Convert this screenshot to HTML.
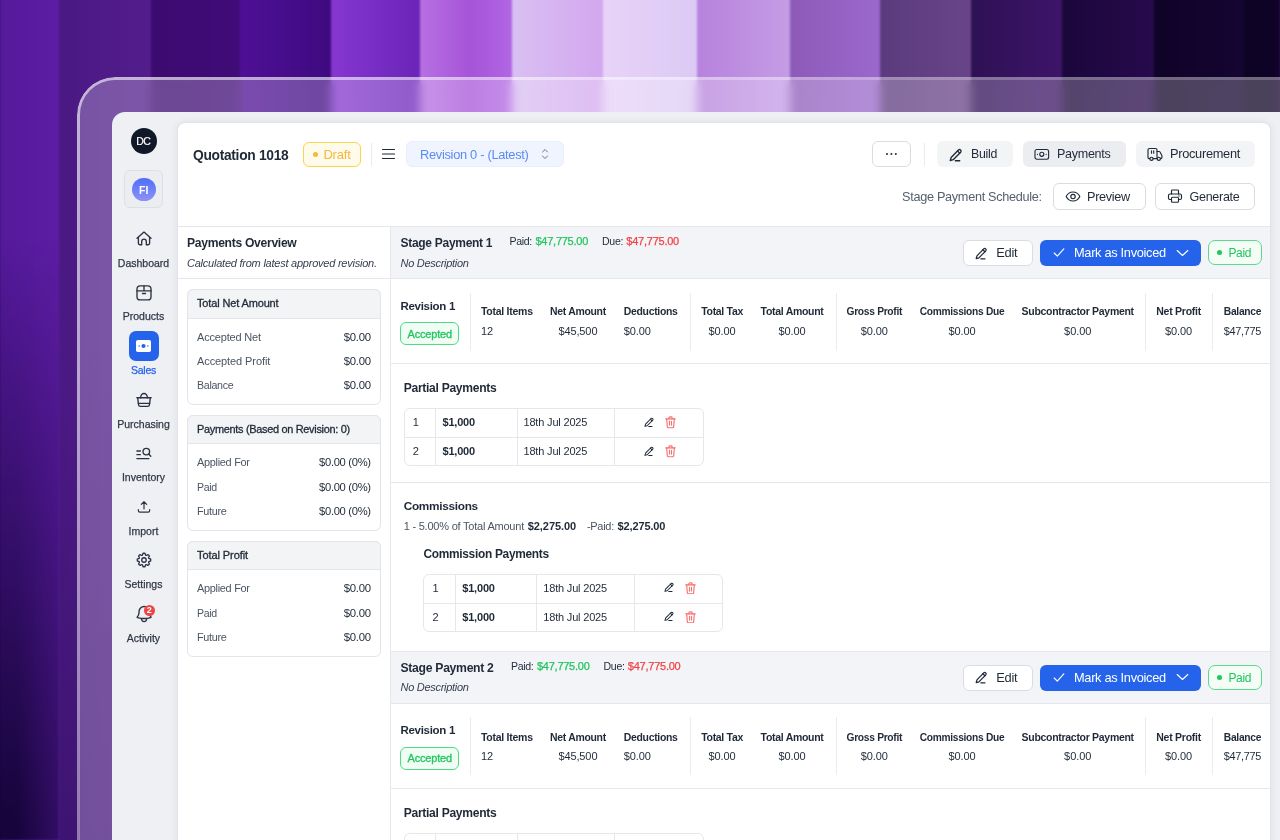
<!DOCTYPE html>
<html lang="en">
<head>
<meta charset="utf-8">
<title>Quotation 1018 - Payments</title>
<style>
*{box-sizing:border-box;margin:0;padding:0}
html,body{width:1280px;height:840px;overflow:hidden}
body{position:relative;font-family:"Liberation Sans",sans-serif;color:#1f2937;background:#3d0c72;-webkit-font-smoothing:antialiased}
.bg{position:absolute;left:0;top:-20px;width:1280px;height:880px;filter:blur(1.2px);
background:linear-gradient(90deg,
#551a9b 0px,#5d1da4 59px,
#4a1983 59px,#531d8d 151px,
#3c0b70 151px,#400c78 240px,
#4e1096 240px,#3e0a80 331px,
#8637d0 331px,#6a24b8 420px,
#b770e2 420px,#a654d8 470px,#b066e2 512px,
#d9c0f2 512px,#d3a7ef 603px,
#e8d3f8 603px,#dccaf5 697px,
#b782dc 697px,#c59ce6 790px,
#8d5ab8 790px,#9b69cd 880px,
#5b3b7d 880px,#694489 971px,
#2e1154 971px,#3e1469 1062px,
#1b073a 1062px,#270a4c 1154px,
#0f0327 1154px,#150532 1244px,
#0d0323 1244px,#0f0328 1280px);}
.bgv{position:absolute;left:-5px;top:0;width:64px;height:840px;filter:blur(1.2px);
background:linear-gradient(180deg,rgba(10,0,40,0) 0,rgba(10,0,40,0) 240px,rgba(10,0,40,.24) 400px,rgba(10,0,40,.8) 800px,rgba(10,0,40,.84) 840px);
-webkit-mask-image:linear-gradient(90deg,#000 0,#000 35%,rgba(0,0,0,.62) 100%);mask-image:linear-gradient(90deg,#000 0,#000 35%,rgba(0,0,0,.62) 100%)}
.bgv2{position:absolute;left:59px;top:0;width:20px;height:840px;
background:linear-gradient(180deg,rgba(10,0,40,0) 0,rgba(10,0,40,0) 400px,rgba(10,0,40,.2) 840px)}
.frame{position:absolute;left:80px;top:80px;width:1300px;height:900px;border-radius:35px;background:linear-gradient(180deg,rgba(255,255,255,.25) 0,rgba(255,255,255,.25) 250px,rgba(215,225,205,.27) 840px);-webkit-backdrop-filter:blur(5px);backdrop-filter:blur(5px)}
.frameb{position:absolute;left:77px;top:77px;width:1306px;height:906px;border-radius:38px;padding:3px;background:radial-gradient(circle at 0 0,rgba(255,255,255,.68) 0,rgba(255,255,255,.62) 300px,rgba(255,255,255,.42) 800px,rgba(255,255,255,.4) 1300px);-webkit-mask:linear-gradient(#000 0 0) content-box,linear-gradient(#000 0 0);-webkit-mask-composite:xor;mask-composite:exclude}
.win{position:absolute;left:112px;top:112px;width:1300px;height:900px;background:#eff0f4;border-radius:13px}
.panel{position:absolute;left:177px;top:122px;width:1094px;height:800px;background:#fff;border:1px solid #e1e3e8;border-radius:8px 8px 0 0;overflow:hidden;box-shadow:0 0 9px rgba(20,25,45,.07)}
.t{position:absolute;white-space:nowrap;line-height:16px;height:16px}
.c{transform:translate(-50%,-50%)}
.r{transform:translate(-100%,-50%)}
.b{font-weight:700}
.abs{position:absolute}

.sb{position:absolute;left:112px;top:112px;width:65px;height:728px}
.av{position:absolute;left:130.5px;top:128px;width:26px;height:26px;border-radius:50%;background:#111827;color:#fff;font-size:10.5px;font-weight:400;-webkit-text-stroke:.2px #fff;text-align:center;line-height:27px;letter-spacing:-.5px;text-indent:-.5px}
.fibox{position:absolute;left:124px;top:170px;width:39px;height:38px;border:1px solid #dcdfe5;border-radius:6px;background:#ebedf1}
.fi{position:absolute;left:132px;top:177.500px;width:23.500px;height:23.500px;border-radius:50%;background:linear-gradient(180deg,#4f6ef7,#8d92f9);color:#fff;font-size:10.500px;font-weight:700;text-align:center;line-height:24px}
.nl{position:absolute;left:143.5px;white-space:nowrap;line-height:1;transform:translate(-50%,-50%);font-size:10.5px;color:#2f3947;-webkit-text-stroke:.25px #2f3947}
.ni{position:absolute;left:134.5px;width:18px;height:18px;fill:none;stroke:#2b3340;stroke-width:1.35;stroke-linecap:round;stroke-linejoin:round}
.salesbox{position:absolute;left:129px;top:331px;width:29.5px;height:30px;border-radius:7px;background:#2563eb}

.hline{position:absolute;background:#e5e7eb}
.btn{position:absolute;height:26px;border-radius:6px;font-size:13px;color:#1f2937}
.btn.g{background:#f3f4f6}
.btn.w{background:#fff;border:1px solid #d4d7dd}
.ic{position:absolute;fill:none;stroke:#1f2937;stroke-width:1.15;stroke-linecap:round;stroke-linejoin:round}
</style>
</head>
<body>
<div class="bg"></div>
<div class="bgv"></div><div class="bgv2"></div>
<div class="frame"></div><div class="frameb"></div>
<div class="win"></div>
<div class="panel"></div>

<nav>
<div class="av">DC</div>
<div class="fibox"></div><div class="fi">FI</div>

<svg class="ni" style="left:135px;top:229px" viewBox="0 0 18 18"><path d="M2 9.300 9 3.100l7 6.200"/><path d="M3.400 8.300v6a1.400 1.400 0 0 0 1.400 1.400h1.900v-3.300a2.300 2.300 0 0 1 4.600 0v3.300h1.900a1.400 1.400 0 0 0 1.400-1.400v-6"/></svg>
<div class="nl" style="top:262.700px">Dashboard</div>

<svg class="ni" style="left:135px;top:283.500px" viewBox="0 0 18 18"><rect x="2" y="1.900" width="14" height="14" rx="3.200"/><path d="M2 6.900h14M9 1.900v5M7.500 9.500h3"/></svg>
<div class="nl" style="top:316.400px">Products</div>

<div class="salesbox"></div>
<svg class="abs" style="left:136.200px;top:340px" width="15" height="12" viewBox="0 0 15 12"><rect x="0" y="0" width="15" height="12" rx="1.800" fill="#fff"/><circle cx="7.500" cy="6" r="2.100" fill="#2563eb"/><circle cx="3.100" cy="6" r=".75" fill="#2563eb"/><circle cx="11.900" cy="6" r=".75" fill="#2563eb"/></svg>
<div class="nl" style="top:370px;color:#2563eb;-webkit-text-stroke-color:#2563eb;letter-spacing:-.25px">Sales</div>

<svg class="ni" style="left:135px;top:390.500px" viewBox="0 0 18 18"><path d="M1.900 6.700h14.200"/><path d="M5.600 6.700a3.400 4.200 0 0 1 6.800 0"/><path d="M2.700 6.700l.8 6.900a2 2 0 0 0 2 1.800h7a2 2 0 0 0 2-1.800l.8-6.900"/><path d="M3.400 12.400h11.200"/></svg>
<div class="nl" style="top:423.700px">Purchasing</div>

<svg class="ni" style="left:135px;top:443.700px" viewBox="0 0 18 18"><circle cx="11.300" cy="7.600" r="3.300"/><path d="m13.700 10 2.100 2.200"/><path d="M1.900 7h3.500M1.900 10.600h3.500M1.900 14.600h12"/></svg>
<div class="nl" style="top:477.300px">Inventory</div>

<svg class="ni" style="left:135.500px;top:498.500px;width:16px;height:16px" viewBox="0 0 18 18"><path d="M9 11V3.200M6 6 9 3l3 3"/><path d="M2.600 11.800v1.200a1.800 1.800 0 0 0 1.800 1.800h9.200a1.800 1.800 0 0 0 1.800-1.800v-1.200"/></svg>
<div class="nl" style="top:531px">Import</div>

<svg class="ni" style="top:551px;stroke-width:1.750" viewBox="0 0 24 24"><path d="M10.343 3.940c.09-.542.560-.940 1.110-.940h1.093c.55 0 1.020.398 1.110.940l.149.894c.07.424.384.764.780.930.398.164.855.142 1.205-.108l.737-.527a1.125 1.125 0 0 1 1.450.120l.773.774c.39.389.44 1.002.120 1.450l-.527.737c-.250.350-.272.806-.107 1.204.165.397.505.710.930.780l.893.150c.543.090.940.560.940 1.109v1.094c0 .550-.397 1.020-.940 1.110l-.893.149c-.425.070-.765.383-.930.780-.165.398-.143.854.107 1.204l.527.738c.320.447.269 1.060-.120 1.450l-.774.773a1.125 1.125 0 0 1-1.449.120l-.738-.527c-.350-.250-.806-.272-1.203-.107-.397.165-.710.505-.781.929l-.149.894c-.090.542-.560.940-1.110.940h-1.094c-.550 0-1.019-.398-1.110-.940l-.148-.894c-.071-.424-.384-.764-.781-.930-.398-.164-.854-.142-1.204.108l-.738.527c-.447.320-1.060.269-1.450-.120l-.773-.774a1.125 1.125 0 0 1-.120-1.450l.527-.737c.250-.350.273-.806.108-1.204-.165-.397-.505-.710-.930-.780l-.894-.150c-.542-.090-.940-.560-.940-1.109v-1.094c0-.550.398-1.020.940-1.110l.894-.149c.424-.070.765-.383.930-.780.165-.398.143-.854-.107-1.204l-.527-.738a1.125 1.125 0 0 1 .120-1.450l.773-.773a1.125 1.125 0 0 1 1.450-.120l.737.527c.350.250.807.272 1.204.107.397-.165.710-.505.780-.929z"/><circle cx="12" cy="12" r="3"/></svg>
<div class="nl" style="top:584.300px">Settings</div>

<svg class="ni" style="left:133.900px;top:604.300px;width:20.200px;height:20.200px;stroke-width:1.600" viewBox="0 0 24 24"><path d="M14.857 17.082a23.848 23.848 0 0 0 5.454-1.310A8.967 8.967 0 0 1 18 9.750V9A6 6 0 0 0 6 9v.750a8.967 8.967 0 0 1-2.312 6.022c1.733.640 3.560 1.085 5.455 1.310m5.714 0a24.255 24.255 0 0 1-5.714 0m5.714 0a3 3 0 1 1-5.714 0"/></svg>
<div class="abs" style="left:143.500px;top:604.500px;width:11.500px;height:11.500px;border-radius:50%;background:#ef4444;color:#fff;font-size:9px;font-weight:700;text-align:center;line-height:11.500px">2</div>
<div class="nl" style="top:638.300px">Activity</div>


</nav>
<header>
<div class="t" style="left:193px;top:148.00px;font-size:13.8px;color:#1f2937;letter-spacing:-0.306px;font-weight:700;">Quotation 1018</div>
<div class="abs" style="left:303px;top:142px;width:58px;height:24.5px;background:#fffbeb;border:1px solid #fcd34d;border-radius:6px;"></div>
<div class="abs" style="left:312.5px;top:151.7px;width:5px;height:5px;background:#f7b93c;border-radius:3px;"></div>
<div class="t" style="left:323.4px;top:147.00px;font-size:13.0px;color:#f5b73f;letter-spacing:-0.194px;">Draft</div>
<div class="abs" style="left:371px;top:143px;width:1px;height:23px;background:#e9ebee;"></div>
<svg class="ic" style="left:381px;top:147px" width="15" height="14" viewBox="0 0 15 14" stroke-width="1.100" stroke="#374151"><path d="M1.500 2.500h12M1.500 7h12M1.500 11.500h12"/></svg>
<div class="abs" style="left:406px;top:141px;width:158px;height:26px;background:#eff4ff;border:1px solid #e8eefc;border-radius:6px;"></div>
<div class="t" style="left:420px;top:147.00px;font-size:12.85px;color:#5b8bf0;letter-spacing:-0.304px;">Revision 0 - (Latest)</div>
<svg class="ic" style="left:539px;top:147px;stroke:#6b7280;stroke-width:1" width="12" height="14" viewBox="0 0 12 14"><path d="M3.500 5 6 2.500 8.500 5M3.500 9 6 11.500 8.500 9"/></svg>
<div class="abs" style="left:871.5px;top:141px;width:39px;height:26px;background:#fff;border:1px solid #d9dce2;border-radius:6px;"></div>
<div class="abs" style="left:885.8px;top:153.2px;width:2.3px;height:2.3px;background:#1f2937;border-radius:2px;box-shadow:4.400px 0 0 #1f2937,8.800px 0 0 #1f2937;"></div>
<div class="abs" style="left:924px;top:143px;width:1px;height:23px;background:#e9ebee;"></div>
<div class="abs" style="left:937px;top:141px;width:75.5px;height:26px;background:#f3f4f6;border-radius:6px;"></div>
<svg class="ic" style="left:949.0px;top:147.5px;stroke:#1f2937" width="14" height="14" viewBox="0 0 12 12" stroke-width="1.11"><path d="M8.100 1.700a1.350 1.350 0 0 1 1.900 1.900L3.600 10 1.100 10.700 1.800 8.200z"/><path d="M7.300 2.500l1.900 1.900"/><path d="M5.400 10.900h3.800"/></svg>
<div class="t" style="left:971px;top:146.00px;font-size:12.35px;color:#1f2937;letter-spacing:-0.292px;">Build</div>
<div class="abs" style="left:1023px;top:141px;width:102.5px;height:26px;background:#ebedf1;border-radius:6px;"></div>
<svg class="ic" style="left:1034px;top:147.500px" width="15.600" height="12.700" viewBox="0 0 16 13"><rect x="1" y="1.500" width="14" height="10" rx="2"/><circle cx="8" cy="6.500" r="2.100"/><path d="M3.500 6.500h.01M12.500 6.500h.01" stroke-width="1.300"/></svg>
<div class="t" style="left:1057px;top:146.00px;font-size:12.55px;color:#1f2937;letter-spacing:-0.288px;">Payments</div>
<div class="abs" style="left:1135.5px;top:141px;width:119px;height:26px;background:#f3f4f6;border-radius:6px;"></div>
<svg class="ic" style="left:1147px;top:146.500px" width="16" height="15" viewBox="0 0 16 15"><path d="M2.800 11.600H2a1 1 0 0 1-1-1V3a1.500 1.500 0 0 1 1.500-1.500h6A1.500 1.500 0 0 1 10 3v8.600H6.200"/><path d="M10 4.500h2.200a1 1 0 0 1 .8.500l1.800 3.200a1 1 0 0 1 .1.500v1.900a1 1 0 0 1-1 1h-.4"/><circle cx="4.500" cy="11.800" r="1.600"/><circle cx="11.800" cy="11.800" r="1.600"/><path d="M4.500 3.800v2.400M6.700 3.800v2.400"/></svg>
<div class="t" style="left:1170px;top:146.00px;font-size:12.8px;color:#1f2937;letter-spacing:-0.298px;">Procurement</div>
<div class="t" style="left:902px;top:189.00px;font-size:12.7px;color:#566070;letter-spacing:-0.298px;">Stage Payment Schedule:</div>
<div class="abs" style="left:1053px;top:183px;width:92.5px;height:26.6px;background:#fff;border:1px solid #d9dce2;border-radius:6px;"></div>
<svg class="ic" style="left:1064.500px;top:189.500px" width="16" height="13" viewBox="0 0 16 13"><path d="M1.200 6.500C2.600 3.600 5.100 2 8 2s5.400 1.600 6.800 4.500C13.400 9.400 10.900 11 8 11S2.600 9.400 1.200 6.500z"/><circle cx="8" cy="6.500" r="2.200"/></svg>
<div class="t" style="left:1087px;top:189.00px;font-size:12.7px;color:#1f2937;letter-spacing:-0.31px;">Preview</div>
<div class="abs" style="left:1155px;top:183px;width:99.5px;height:26.6px;background:#fff;border:1px solid #d9dce2;border-radius:6px;"></div>
<svg class="ic" style="left:1166.500px;top:188px" width="16" height="16" viewBox="0 0 16 16"><path d="M4.500 6V2.800a.8.800 0 0 1 .8-.8h5.400a.8.800 0 0 1 .8.800V6"/><path d="M4.500 11.500H3a1.500 1.500 0 0 1-1.500-1.500V7.500A1.500 1.500 0 0 1 3 6h10a1.500 1.500 0 0 1 1.500 1.500V10a1.500 1.500 0 0 1-1.500 1.500h-1.500"/><rect x="4.500" y="9.200" width="7" height="5" rx="1"/><path d="M12 8h.01" stroke-width="1.300"/></svg>
<div class="t" style="left:1189.5px;top:189.00px;font-size:12.55px;color:#1f2937;letter-spacing:-0.291px;">Generate</div>
<div class="abs" style="left:178px;top:226px;width:1092px;height:1px;background:#e5e7eb;"></div>
</header>
<aside>
<div class="abs" style="left:390px;top:227px;width:1px;height:620px;background:#e5e7eb;"></div>
<div class="t" style="left:187px;top:235.00px;font-size:12.15px;color:#1f2937;letter-spacing:-0.307px;font-weight:700;">Payments Overview</div>
<div class="t" style="left:187px;top:255.00px;font-size:11.0px;color:#374151;letter-spacing:-0.232px;font-style:italic;">Calculated from latest approved revision.</div>
<div class="abs" style="left:178px;top:278px;width:212px;height:1px;background:#e5e7eb;"></div>
<div class="abs" style="left:187px;top:289px;width:194px;height:116px;background:#fff;border:1px solid #e3e5ea;border-radius:6px;"></div>
<div class="abs" style="left:187px;top:289px;width:194px;height:29.5px;background:#f3f4f6;border:1px solid #e3e5ea;border-radius:6px 6px 0 0;"></div>
<div class="t" style="left:197px;top:295.00px;font-size:11.0px;color:#1f2937;letter-spacing:-0.142px;-webkit-text-stroke:0.3px #1f2937;">Total Net Amount</div>
<div class="t" style="left:197px;top:329.00px;font-size:11.0px;color:#4b5563;letter-spacing:-0.178px;">Accepted Net</div>
<div class="t" style="left:371px;top:329.00px;font-size:11.35px;color:#1f2937;transform:translateX(-100%);letter-spacing:-0.301px;margin-left:-0.301px;">$0.00</div>
<div class="t" style="left:197px;top:353.00px;font-size:11.0px;color:#4b5563;letter-spacing:-0.093px;">Accepted Profit</div>
<div class="t" style="left:371px;top:353.00px;font-size:11.35px;color:#1f2937;transform:translateX(-100%);letter-spacing:-0.301px;margin-left:-0.301px;">$0.00</div>
<div class="t" style="left:197px;top:377.00px;font-size:10.65px;color:#4b5563;letter-spacing:-0.298px;">Balance</div>
<div class="t" style="left:371px;top:377.00px;font-size:11.35px;color:#1f2937;transform:translateX(-100%);letter-spacing:-0.301px;margin-left:-0.301px;">$0.00</div>
<div class="abs" style="left:187px;top:415px;width:194px;height:116px;background:#fff;border:1px solid #e3e5ea;border-radius:6px;"></div>
<div class="abs" style="left:187px;top:415px;width:194px;height:29px;background:#f3f4f6;border:1px solid #e3e5ea;border-radius:6px 6px 0 0;"></div>
<div class="t" style="left:197px;top:421.00px;font-size:10.95px;color:#1f2937;letter-spacing:-0.307px;-webkit-text-stroke:0.3px #1f2937;">Payments (Based on Revision: 0)</div>
<div class="t" style="left:197px;top:454.00px;font-size:10.95px;color:#4b5563;letter-spacing:-0.3px;">Applied For</div>
<div class="t" style="left:371px;top:454.00px;font-size:11.2px;color:#1f2937;transform:translateX(-100%);letter-spacing:-0.309px;margin-left:-0.309px;">$0.00 (0%)</div>
<div class="t" style="left:197px;top:479.00px;font-size:10.55px;color:#4b5563;letter-spacing:-0.304px;">Paid</div>
<div class="t" style="left:371px;top:479.00px;font-size:11.2px;color:#1f2937;transform:translateX(-100%);letter-spacing:-0.309px;margin-left:-0.309px;">$0.00 (0%)</div>
<div class="t" style="left:197px;top:503.00px;font-size:10.85px;color:#4b5563;letter-spacing:-0.31px;">Future</div>
<div class="t" style="left:371px;top:503.00px;font-size:11.2px;color:#1f2937;transform:translateX(-100%);letter-spacing:-0.309px;margin-left:-0.309px;">$0.00 (0%)</div>
<div class="abs" style="left:187px;top:541px;width:194px;height:115.5px;background:#fff;border:1px solid #e3e5ea;border-radius:6px;"></div>
<div class="abs" style="left:187px;top:541px;width:194px;height:29px;background:#f3f4f6;border:1px solid #e3e5ea;border-radius:6px 6px 0 0;"></div>
<div class="t" style="left:197px;top:547.00px;font-size:11.0px;color:#1f2937;letter-spacing:-0.08px;-webkit-text-stroke:0.3px #1f2937;">Total Profit</div>
<div class="t" style="left:197px;top:580.00px;font-size:10.95px;color:#4b5563;letter-spacing:-0.3px;">Applied For</div>
<div class="t" style="left:371px;top:580.00px;font-size:11.35px;color:#1f2937;transform:translateX(-100%);letter-spacing:-0.301px;margin-left:-0.301px;">$0.00</div>
<div class="t" style="left:197px;top:605.00px;font-size:10.55px;color:#4b5563;letter-spacing:-0.304px;">Paid</div>
<div class="t" style="left:371px;top:605.00px;font-size:11.35px;color:#1f2937;transform:translateX(-100%);letter-spacing:-0.301px;margin-left:-0.301px;">$0.00</div>
<div class="t" style="left:197px;top:629.00px;font-size:10.85px;color:#4b5563;letter-spacing:-0.31px;">Future</div>
<div class="t" style="left:371px;top:629.00px;font-size:11.35px;color:#1f2937;transform:translateX(-100%);letter-spacing:-0.301px;margin-left:-0.301px;">$0.00</div>
</aside>
<main>
<section>
<div class="abs" style="left:391px;top:226px;width:879px;height:53px;background:#f3f4f8;border-top:1px solid #e5e7eb;border-bottom:1px solid #e5e7eb;"></div>
<div class="t" style="left:400.5px;top:235.00px;font-size:12.0px;color:#1f2937;letter-spacing:-0.289px;font-weight:700;">Stage Payment 1</div>
<div class="t" style="left:509.5px;top:233.00px;font-size:10.55px;color:#1f2937;letter-spacing:-0.309px;">Paid:</div>
<div class="t" style="left:535.5px;top:233.00px;font-size:11.0px;color:#22c55e;letter-spacing:-0.255px;-webkit-text-stroke:0.25px #22c55e;">$47,775.00</div>
<div class="t" style="left:602px;top:233.00px;font-size:10.55px;color:#1f2937;letter-spacing:-0.296px;">Due:</div>
<div class="t" style="left:626.3px;top:233.00px;font-size:11.0px;color:#ef4444;letter-spacing:-0.235px;-webkit-text-stroke:0.25px #ef4444;">$47,775.00</div>
<div class="t" style="left:400.5px;top:255.00px;font-size:11.0px;color:#374151;letter-spacing:-0.281px;font-style:italic;">No Description</div>
<div class="abs" style="left:962.5px;top:239.7px;width:70.5px;height:26px;background:#fff;border:1px solid #d9dce2;border-radius:6px;"></div>
<svg class="ic" style="left:975.0px;top:246.5px;stroke:#1f2937" width="13" height="13" viewBox="0 0 12 12" stroke-width="1.15"><path d="M8.100 1.700a1.350 1.350 0 0 1 1.900 1.900L3.600 10 1.100 10.700 1.800 8.200z"/><path d="M7.300 2.500l1.900 1.900"/><path d="M5.400 10.900h3.800"/></svg>
<div class="t" style="left:996.3px;top:245.00px;font-size:12.9px;color:#1f2937;letter-spacing:-0.307px;">Edit</div>
<div class="abs" style="left:1039.5px;top:239.7px;width:161.5px;height:26px;background:#2563eb;border-radius:6px;"></div>
<svg class="ic" style="left:1052.500px;top:247px;stroke:#fff" width="12" height="11" viewBox="0 0 12 11" stroke-width="1.300"><path d="M1.200 6 4.300 9.200 10.800 1.800"/></svg>
<div class="t" style="left:1074px;top:245.00px;font-size:12.8px;color:#fff;letter-spacing:-0.309px;">Mark as Invoiced</div>
<svg class="ic" style="left:1175.500px;top:248.5px;stroke:#fff" width="13" height="8" viewBox="0 0 13 8" stroke-width="1.300"><path d="M1.200 1.500 6.500 6.500 11.800 1.500"/></svg>
<div class="abs" style="left:1207.5px;top:240px;width:54px;height:25px;background:#f3fdf6;border:1px solid #5bd98e;border-radius:7px;"></div>
<div class="abs" style="left:1217px;top:250px;width:5.4px;height:5.4px;background:#22c55e;border-radius:3px;"></div>
<div class="t" style="left:1228.4px;top:245.00px;font-size:12.0px;color:#22c55e;letter-spacing:-0.304px;">Paid</div>
<div class="t" style="left:400.5px;top:298.00px;font-size:11.5px;color:#1f2937;letter-spacing:-0.302px;font-weight:700;">Revision 1</div>
<div class="abs" style="left:400px;top:322.4px;width:59px;height:22.6px;background:#f0fdf4;border:1px solid #4ade80;border-radius:6px;"></div>
<div class="t" style="left:407.6px;top:326.00px;font-size:11.0px;color:#22c55e;letter-spacing:-0.195px;-webkit-text-stroke:0.3px #22c55e;">Accepted</div>
<div class="abs" style="left:470px;top:292.5px;width:1px;height:58px;background:#eaecef;"></div>
<div class="abs" style="left:690px;top:292.5px;width:1px;height:58px;background:#eaecef;"></div>
<div class="abs" style="left:835.5px;top:292.5px;width:1px;height:58px;background:#eaecef;"></div>
<div class="abs" style="left:1145.3px;top:292.5px;width:1px;height:58px;background:#eaecef;"></div>
<div class="abs" style="left:1212.2px;top:292.5px;width:1px;height:58px;background:#eaecef;"></div>
<div class="t" style="left:481px;top:303.00px;font-size:10.5px;color:#1f2937;letter-spacing:-0.268px;font-weight:700;">Total Items</div>
<div class="t" style="left:481px;top:323.00px;font-size:11px;color:#1f2937;">12</div>
<div class="t" style="left:550px;top:304.00px;font-size:10.45px;color:#1f2937;letter-spacing:-0.292px;font-weight:700;">Net Amount</div>
<div class="t" style="left:577.95px;top:323.00px;font-size:11.0px;color:#1f2937;transform:translateX(-50%);letter-spacing:-0.109px;margin-left:-0.0545px;">$45,500</div>
<div class="t" style="left:623.8px;top:304.00px;font-size:10.45px;color:#1f2937;letter-spacing:-0.31px;font-weight:700;">Deductions</div>
<div class="t" style="left:623.8px;top:323.00px;font-size:11.0px;color:#1f2937;letter-spacing:-0.085px;">$0.00</div>
<div class="t" style="left:701.2px;top:303.00px;font-size:10.5px;color:#1f2937;letter-spacing:-0.304px;font-weight:700;">Total Tax</div>
<div class="t" style="left:722.1px;top:323.00px;font-size:11.0px;color:#1f2937;transform:translateX(-50%);letter-spacing:-0.085px;margin-left:-0.0425px;">$0.00</div>
<div class="t" style="left:760.6px;top:303.00px;font-size:10.5px;color:#1f2937;letter-spacing:-0.299px;font-weight:700;">Total Amount</div>
<div class="t" style="left:792.0500000000001px;top:323.00px;font-size:11.0px;color:#1f2937;transform:translateX(-50%);letter-spacing:-0.085px;margin-left:-0.0425px;">$0.00</div>
<div class="t" style="left:846.5px;top:304.00px;font-size:10.25px;color:#1f2937;letter-spacing:-0.303px;font-weight:700;">Gross Profit</div>
<div class="t" style="left:874.3px;top:323.00px;font-size:11.0px;color:#1f2937;transform:translateX(-50%);letter-spacing:-0.085px;margin-left:-0.0425px;">$0.00</div>
<div class="t" style="left:919.7px;top:304.00px;font-size:10.2px;color:#1f2937;letter-spacing:-0.286px;font-weight:700;">Commissions Due</div>
<div class="t" style="left:962.0500000000001px;top:323.00px;font-size:11.0px;color:#1f2937;transform:translateX(-50%);letter-spacing:-0.085px;margin-left:-0.0425px;">$0.00</div>
<div class="t" style="left:1021.6px;top:303.00px;font-size:10.5px;color:#1f2937;letter-spacing:-0.297px;font-weight:700;">Subcontractor Payment</div>
<div class="t" style="left:1077.7px;top:323.00px;font-size:11.0px;color:#1f2937;transform:translateX(-50%);letter-spacing:-0.085px;margin-left:-0.0425px;">$0.00</div>
<div class="t" style="left:1156.3px;top:303.00px;font-size:10.5px;color:#1f2937;letter-spacing:-0.255px;font-weight:700;">Net Profit</div>
<div class="t" style="left:1178.6499999999999px;top:323.00px;font-size:11.0px;color:#1f2937;transform:translateX(-50%);letter-spacing:-0.085px;margin-left:-0.0425px;">$0.00</div>
<div class="t" style="left:1223.8px;top:304.00px;font-size:10.25px;color:#1f2937;letter-spacing:-0.288px;font-weight:700;">Balance</div>
<div class="t" style="left:1223.8px;top:323.00px;font-size:10.9px;color:#1f2937;letter-spacing:-0.3px;">$47,775</div>
<div class="abs" style="left:391px;top:363px;width:879px;height:1px;background:#e5e7eb;"></div>
<div class="t" style="left:403.7px;top:380.00px;font-size:12.1px;color:#1f2937;letter-spacing:-0.295px;font-weight:700;">Partial Payments</div>
<div class="abs" style="left:403.5px;top:408px;width:300px;height:58px;background:#fff;border:1px solid #e5e7eb;border-radius:6px;"></div>
<div class="abs" style="left:403.5px;top:437px;width:300px;height:1px;background:#e5e7eb;"></div>
<div class="abs" style="left:435.2px;top:408px;width:1px;height:58px;background:#e5e7eb;"></div>
<div class="abs" style="left:516.5px;top:408px;width:1px;height:58px;background:#e5e7eb;"></div>
<div class="abs" style="left:614.0px;top:408px;width:1px;height:58px;background:#e5e7eb;"></div>
<div class="t" style="left:415.7px;top:414.00px;font-size:11px;color:#1f2937;transform:translateX(-50%);">1</div>
<div class="t" style="left:442.5px;top:414.00px;font-size:11.0px;color:#1f2937;letter-spacing:-0.207px;font-weight:700;">$1,000</div>
<div class="t" style="left:523.5px;top:414.00px;font-size:11.0px;color:#1f2937;letter-spacing:-0.181px;">18th Jul 2025</div>
<svg class="ic" style="left:644.25px;top:416.85px;stroke:#1f2937" width="10.5" height="10.5" viewBox="0 0 12 12" stroke-width="1.26"><path d="M8.100 1.700a1.350 1.350 0 0 1 1.900 1.900L3.600 10 1.100 10.700 1.800 8.200z"/><path d="M7.300 2.500l1.900 1.900"/><path d="M5.400 10.900h3.800"/></svg>
<svg class="ic" style="left:665.1px;top:416.35px;stroke:#f87171" width="11" height="12.5" viewBox="0 0 11 12.500" stroke-width="1.15"><path d="M.8 2.900h9.400"/><path d="M3.900 2.900V1.700a.9.900 0 0 1 .9-.9h1.400a.9.900 0 0 1 .9.900v1.200"/><path d="M1.700 2.900l.6 7.700a1.200 1.200 0 0 0 1.200 1.100h4a1.200 1.200 0 0 0 1.200-1.100l.6-7.700"/><path d="M4.500 5.200v3.900M6.500 5.200v3.900"/></svg>
<div class="t" style="left:415.7px;top:443.00px;font-size:11px;color:#1f2937;transform:translateX(-50%);">2</div>
<div class="t" style="left:442.5px;top:443.00px;font-size:11.0px;color:#1f2937;letter-spacing:-0.207px;font-weight:700;">$1,000</div>
<div class="t" style="left:523.5px;top:443.00px;font-size:11.0px;color:#1f2937;letter-spacing:-0.181px;">18th Jul 2025</div>
<svg class="ic" style="left:644.25px;top:445.95px;stroke:#1f2937" width="10.5" height="10.5" viewBox="0 0 12 12" stroke-width="1.26"><path d="M8.100 1.700a1.350 1.350 0 0 1 1.900 1.900L3.600 10 1.100 10.700 1.800 8.200z"/><path d="M7.300 2.500l1.900 1.900"/><path d="M5.400 10.900h3.800"/></svg>
<svg class="ic" style="left:665.1px;top:445.45px;stroke:#f87171" width="11" height="12.5" viewBox="0 0 11 12.500" stroke-width="1.15"><path d="M.8 2.900h9.400"/><path d="M3.900 2.900V1.700a.9.900 0 0 1 .9-.9h1.400a.9.900 0 0 1 .9.900v1.200"/><path d="M1.700 2.900l.6 7.700a1.200 1.200 0 0 0 1.200 1.100h4a1.200 1.200 0 0 0 1.200-1.100l.6-7.700"/><path d="M4.500 5.200v3.900M6.500 5.200v3.900"/></svg>
<div class="abs" style="left:391px;top:482px;width:879px;height:1px;background:#e5e7eb;"></div>
<div class="t" style="left:403.7px;top:498.00px;font-size:11.8px;color:#1f2937;letter-spacing:-0.289px;font-weight:700;">Commissions</div>
<div class="t" style="left:403.7px;top:518.00px;font-size:11.0px;color:#4b5563;letter-spacing:-0.219px;">1 - 5.00% of Total Amount</div>
<div class="t" style="left:527.8px;top:518.00px;font-size:11.0px;color:#1f2937;letter-spacing:-0.082px;font-weight:700;">$2,275.00</div>
<div class="t" style="left:586.9px;top:518.00px;font-size:11.0px;color:#4b5563;letter-spacing:-0.273px;">-Paid:</div>
<div class="t" style="left:617.5px;top:518.00px;font-size:11.0px;color:#1f2937;letter-spacing:-0.126px;font-weight:700;">$2,275.00</div>
<div class="t" style="left:423.4px;top:546.00px;font-size:11.9px;color:#1f2937;letter-spacing:-0.286px;font-weight:700;">Commission Payments</div>
<div class="abs" style="left:423.3px;top:573.5px;width:300px;height:58px;background:#fff;border:1px solid #e5e7eb;border-radius:6px;"></div>
<div class="abs" style="left:423.3px;top:602.5px;width:300px;height:1px;background:#e5e7eb;"></div>
<div class="abs" style="left:455.0px;top:573.5px;width:1px;height:58px;background:#e5e7eb;"></div>
<div class="abs" style="left:536.3px;top:573.5px;width:1px;height:58px;background:#e5e7eb;"></div>
<div class="abs" style="left:633.8px;top:573.5px;width:1px;height:58px;background:#e5e7eb;"></div>
<div class="t" style="left:435.5px;top:580.00px;font-size:11px;color:#1f2937;transform:translateX(-50%);">1</div>
<div class="t" style="left:462.3px;top:580.00px;font-size:11.0px;color:#1f2937;letter-spacing:-0.207px;font-weight:700;">$1,000</div>
<div class="t" style="left:543.3px;top:580.00px;font-size:11.0px;color:#1f2937;letter-spacing:-0.181px;">18th Jul 2025</div>
<svg class="ic" style="left:664.05px;top:582.3499999999999px;stroke:#1f2937" width="10.5" height="10.5" viewBox="0 0 12 12" stroke-width="1.26"><path d="M8.100 1.700a1.350 1.350 0 0 1 1.900 1.900L3.600 10 1.100 10.700 1.800 8.200z"/><path d="M7.300 2.500l1.900 1.900"/><path d="M5.400 10.900h3.800"/></svg>
<svg class="ic" style="left:684.9000000000001px;top:581.8499999999999px;stroke:#f87171" width="11" height="12.5" viewBox="0 0 11 12.500" stroke-width="1.15"><path d="M.8 2.900h9.400"/><path d="M3.900 2.900V1.700a.9.900 0 0 1 .9-.9h1.400a.9.900 0 0 1 .9.900v1.200"/><path d="M1.700 2.900l.6 7.700a1.200 1.200 0 0 0 1.200 1.100h4a1.200 1.200 0 0 0 1.200-1.100l.6-7.700"/><path d="M4.500 5.200v3.900M6.500 5.200v3.900"/></svg>
<div class="t" style="left:435.5px;top:609.00px;font-size:11px;color:#1f2937;transform:translateX(-50%);">2</div>
<div class="t" style="left:462.3px;top:609.00px;font-size:11.0px;color:#1f2937;letter-spacing:-0.207px;font-weight:700;">$1,000</div>
<div class="t" style="left:543.3px;top:609.00px;font-size:11.0px;color:#1f2937;letter-spacing:-0.181px;">18th Jul 2025</div>
<svg class="ic" style="left:664.05px;top:611.4499999999999px;stroke:#1f2937" width="10.5" height="10.5" viewBox="0 0 12 12" stroke-width="1.26"><path d="M8.100 1.700a1.350 1.350 0 0 1 1.900 1.900L3.600 10 1.100 10.700 1.800 8.200z"/><path d="M7.300 2.500l1.900 1.900"/><path d="M5.400 10.900h3.800"/></svg>
<svg class="ic" style="left:684.9000000000001px;top:610.9499999999999px;stroke:#f87171" width="11" height="12.5" viewBox="0 0 11 12.500" stroke-width="1.15"><path d="M.8 2.900h9.400"/><path d="M3.900 2.900V1.700a.9.900 0 0 1 .9-.9h1.400a.9.900 0 0 1 .9.900v1.200"/><path d="M1.700 2.900l.6 7.700a1.200 1.200 0 0 0 1.200 1.100h4a1.200 1.200 0 0 0 1.200-1.100l.6-7.700"/><path d="M4.500 5.200v3.900M6.500 5.200v3.900"/></svg>
</section>
<section>
<div class="abs" style="left:391px;top:651px;width:879px;height:53px;background:#f3f4f8;border-top:1px solid #e5e7eb;border-bottom:1px solid #e5e7eb;"></div>
<div class="t" style="left:400.5px;top:660.00px;font-size:12.2px;color:#1f2937;letter-spacing:-0.296px;font-weight:700;">Stage Payment 2</div>
<div class="t" style="left:511.0px;top:658.00px;font-size:10.55px;color:#1f2937;letter-spacing:-0.309px;">Paid:</div>
<div class="t" style="left:537.0px;top:658.00px;font-size:11.0px;color:#22c55e;letter-spacing:-0.255px;-webkit-text-stroke:0.25px #22c55e;">$47,775.00</div>
<div class="t" style="left:603.5px;top:658.00px;font-size:10.55px;color:#1f2937;letter-spacing:-0.296px;">Due:</div>
<div class="t" style="left:627.8px;top:658.00px;font-size:11.0px;color:#ef4444;letter-spacing:-0.235px;-webkit-text-stroke:0.25px #ef4444;">$47,775.00</div>
<div class="t" style="left:400.5px;top:679.00px;font-size:11.0px;color:#374151;letter-spacing:-0.281px;font-style:italic;">No Description</div>
<div class="abs" style="left:962.5px;top:664.5px;width:70.5px;height:26px;background:#fff;border:1px solid #d9dce2;border-radius:6px;"></div>
<svg class="ic" style="left:975.0px;top:671.3px;stroke:#1f2937" width="13" height="13" viewBox="0 0 12 12" stroke-width="1.15"><path d="M8.100 1.700a1.350 1.350 0 0 1 1.900 1.900L3.600 10 1.100 10.700 1.800 8.200z"/><path d="M7.300 2.500l1.900 1.900"/><path d="M5.400 10.900h3.800"/></svg>
<div class="t" style="left:996.3px;top:670.00px;font-size:12.9px;color:#1f2937;letter-spacing:-0.307px;">Edit</div>
<div class="abs" style="left:1039.5px;top:664.5px;width:161.5px;height:26px;background:#2563eb;border-radius:6px;"></div>
<svg class="ic" style="left:1052.500px;top:671.8px;stroke:#fff" width="12" height="11" viewBox="0 0 12 11" stroke-width="1.300"><path d="M1.200 6 4.300 9.200 10.800 1.800"/></svg>
<div class="t" style="left:1074px;top:670.00px;font-size:12.8px;color:#fff;letter-spacing:-0.309px;">Mark as Invoiced</div>
<svg class="ic" style="left:1175.500px;top:673.3px;stroke:#fff" width="13" height="8" viewBox="0 0 13 8" stroke-width="1.300"><path d="M1.200 1.500 6.500 6.500 11.800 1.500"/></svg>
<div class="abs" style="left:1207.5px;top:664.8px;width:54px;height:25px;background:#f3fdf6;border:1px solid #5bd98e;border-radius:7px;"></div>
<div class="abs" style="left:1217px;top:674.8px;width:5.4px;height:5.4px;background:#22c55e;border-radius:3px;"></div>
<div class="t" style="left:1228.4px;top:670.00px;font-size:12.0px;color:#22c55e;letter-spacing:-0.304px;">Paid</div>
<div class="t" style="left:400.5px;top:722.00px;font-size:11.5px;color:#1f2937;letter-spacing:-0.302px;font-weight:700;">Revision 1</div>
<div class="abs" style="left:400px;top:747.2px;width:59px;height:22.6px;background:#f0fdf4;border:1px solid #4ade80;border-radius:6px;"></div>
<div class="t" style="left:407.6px;top:750.00px;font-size:11.0px;color:#22c55e;letter-spacing:-0.195px;-webkit-text-stroke:0.3px #22c55e;">Accepted</div>
<div class="abs" style="left:470px;top:717.3px;width:1px;height:58px;background:#eaecef;"></div>
<div class="abs" style="left:690px;top:717.3px;width:1px;height:58px;background:#eaecef;"></div>
<div class="abs" style="left:835.5px;top:717.3px;width:1px;height:58px;background:#eaecef;"></div>
<div class="abs" style="left:1145.3px;top:717.3px;width:1px;height:58px;background:#eaecef;"></div>
<div class="abs" style="left:1212.2px;top:717.3px;width:1px;height:58px;background:#eaecef;"></div>
<div class="t" style="left:481px;top:729.00px;font-size:10.5px;color:#1f2937;letter-spacing:-0.268px;font-weight:700;">Total Items</div>
<div class="t" style="left:481px;top:748.00px;font-size:11px;color:#1f2937;">12</div>
<div class="t" style="left:550px;top:730.00px;font-size:10.45px;color:#1f2937;letter-spacing:-0.292px;font-weight:700;">Net Amount</div>
<div class="t" style="left:577.95px;top:748.00px;font-size:11.0px;color:#1f2937;transform:translateX(-50%);letter-spacing:-0.109px;margin-left:-0.0545px;">$45,500</div>
<div class="t" style="left:623.8px;top:730.00px;font-size:10.45px;color:#1f2937;letter-spacing:-0.31px;font-weight:700;">Deductions</div>
<div class="t" style="left:623.8px;top:748.00px;font-size:11.0px;color:#1f2937;letter-spacing:-0.085px;">$0.00</div>
<div class="t" style="left:701.2px;top:729.00px;font-size:10.5px;color:#1f2937;letter-spacing:-0.304px;font-weight:700;">Total Tax</div>
<div class="t" style="left:722.1px;top:748.00px;font-size:11.0px;color:#1f2937;transform:translateX(-50%);letter-spacing:-0.085px;margin-left:-0.0425px;">$0.00</div>
<div class="t" style="left:760.6px;top:729.00px;font-size:10.5px;color:#1f2937;letter-spacing:-0.299px;font-weight:700;">Total Amount</div>
<div class="t" style="left:792.0500000000001px;top:748.00px;font-size:11.0px;color:#1f2937;transform:translateX(-50%);letter-spacing:-0.085px;margin-left:-0.0425px;">$0.00</div>
<div class="t" style="left:846.5px;top:730.00px;font-size:10.25px;color:#1f2937;letter-spacing:-0.303px;font-weight:700;">Gross Profit</div>
<div class="t" style="left:874.3px;top:748.00px;font-size:11.0px;color:#1f2937;transform:translateX(-50%);letter-spacing:-0.085px;margin-left:-0.0425px;">$0.00</div>
<div class="t" style="left:919.7px;top:730.00px;font-size:10.2px;color:#1f2937;letter-spacing:-0.286px;font-weight:700;">Commissions Due</div>
<div class="t" style="left:962.0500000000001px;top:748.00px;font-size:11.0px;color:#1f2937;transform:translateX(-50%);letter-spacing:-0.085px;margin-left:-0.0425px;">$0.00</div>
<div class="t" style="left:1021.6px;top:729.00px;font-size:10.5px;color:#1f2937;letter-spacing:-0.297px;font-weight:700;">Subcontractor Payment</div>
<div class="t" style="left:1077.7px;top:748.00px;font-size:11.0px;color:#1f2937;transform:translateX(-50%);letter-spacing:-0.085px;margin-left:-0.0425px;">$0.00</div>
<div class="t" style="left:1156.3px;top:729.00px;font-size:10.5px;color:#1f2937;letter-spacing:-0.255px;font-weight:700;">Net Profit</div>
<div class="t" style="left:1178.6499999999999px;top:748.00px;font-size:11.0px;color:#1f2937;transform:translateX(-50%);letter-spacing:-0.085px;margin-left:-0.0425px;">$0.00</div>
<div class="t" style="left:1223.8px;top:730.00px;font-size:10.25px;color:#1f2937;letter-spacing:-0.288px;font-weight:700;">Balance</div>
<div class="t" style="left:1223.8px;top:748.00px;font-size:10.9px;color:#1f2937;letter-spacing:-0.3px;">$47,775</div>
<div class="abs" style="left:391px;top:787.8px;width:879px;height:1px;background:#e5e7eb;"></div>
<div class="t" style="left:403.7px;top:805.00px;font-size:12.1px;color:#1f2937;letter-spacing:-0.295px;font-weight:700;">Partial Payments</div>
<div class="abs" style="left:403.5px;top:832.8px;width:300px;height:58px;background:#fff;border:1px solid #e5e7eb;border-radius:6px;"></div>
<div class="abs" style="left:403.5px;top:861.8px;width:300px;height:1px;background:#e5e7eb;"></div>
<div class="abs" style="left:435.2px;top:832.8px;width:1px;height:58px;background:#e5e7eb;"></div>
<div class="abs" style="left:516.5px;top:832.8px;width:1px;height:58px;background:#e5e7eb;"></div>
<div class="abs" style="left:614.0px;top:832.8px;width:1px;height:58px;background:#e5e7eb;"></div>
<div class="t" style="left:415.7px;top:839.00px;font-size:11px;color:#1f2937;transform:translateX(-50%);">1</div>
<div class="t" style="left:442.5px;top:839.00px;font-size:11.0px;color:#1f2937;letter-spacing:-0.207px;font-weight:700;">$1,000</div>
<div class="t" style="left:523.5px;top:839.00px;font-size:11.0px;color:#1f2937;letter-spacing:-0.181px;">18th Jul 2025</div>
<svg class="ic" style="left:644.25px;top:841.6499999999999px;stroke:#1f2937" width="10.5" height="10.5" viewBox="0 0 12 12" stroke-width="1.26"><path d="M8.100 1.700a1.350 1.350 0 0 1 1.900 1.900L3.600 10 1.100 10.700 1.800 8.200z"/><path d="M7.300 2.500l1.900 1.900"/><path d="M5.400 10.900h3.800"/></svg>
<svg class="ic" style="left:665.1px;top:841.1499999999999px;stroke:#f87171" width="11" height="12.5" viewBox="0 0 11 12.500" stroke-width="1.15"><path d="M.8 2.900h9.400"/><path d="M3.900 2.900V1.700a.9.900 0 0 1 .9-.9h1.400a.9.900 0 0 1 .9.900v1.200"/><path d="M1.700 2.900l.6 7.700a1.200 1.200 0 0 0 1.200 1.100h4a1.200 1.200 0 0 0 1.200-1.100l.6-7.700"/><path d="M4.500 5.200v3.900M6.500 5.200v3.900"/></svg>
<div class="t" style="left:415.7px;top:868.00px;font-size:11px;color:#1f2937;transform:translateX(-50%);">2</div>
<div class="t" style="left:442.5px;top:868.00px;font-size:11.0px;color:#1f2937;letter-spacing:-0.207px;font-weight:700;">$1,000</div>
<div class="t" style="left:523.5px;top:868.00px;font-size:11.0px;color:#1f2937;letter-spacing:-0.181px;">18th Jul 2025</div>
<svg class="ic" style="left:644.25px;top:870.7499999999999px;stroke:#1f2937" width="10.5" height="10.5" viewBox="0 0 12 12" stroke-width="1.26"><path d="M8.100 1.700a1.350 1.350 0 0 1 1.900 1.900L3.600 10 1.100 10.700 1.800 8.200z"/><path d="M7.300 2.500l1.900 1.900"/><path d="M5.400 10.900h3.800"/></svg>
<svg class="ic" style="left:665.1px;top:870.2499999999999px;stroke:#f87171" width="11" height="12.5" viewBox="0 0 11 12.500" stroke-width="1.15"><path d="M.8 2.900h9.400"/><path d="M3.900 2.900V1.700a.9.900 0 0 1 .9-.9h1.400a.9.900 0 0 1 .9.900v1.200"/><path d="M1.700 2.900l.6 7.700a1.200 1.200 0 0 0 1.200 1.100h4a1.200 1.200 0 0 0 1.200-1.100l.6-7.700"/><path d="M4.500 5.200v3.900M6.500 5.200v3.900"/></svg>
<div class="abs" style="left:391px;top:906.8px;width:879px;height:1px;background:#e5e7eb;"></div>
<div class="t" style="left:403.7px;top:923.00px;font-size:11.8px;color:#1f2937;letter-spacing:-0.289px;font-weight:700;">Commissions</div>
<div class="t" style="left:403.7px;top:943.00px;font-size:11.0px;color:#4b5563;letter-spacing:-0.219px;">1 - 5.00% of Total Amount</div>
<div class="t" style="left:527.8px;top:943.00px;font-size:11.0px;color:#1f2937;letter-spacing:-0.082px;font-weight:700;">$2,275.00</div>
<div class="t" style="left:586.9px;top:943.00px;font-size:11.0px;color:#4b5563;letter-spacing:-0.273px;">-Paid:</div>
<div class="t" style="left:617.5px;top:943.00px;font-size:11.0px;color:#1f2937;letter-spacing:-0.126px;font-weight:700;">$2,275.00</div>
<div class="t" style="left:423.4px;top:970.00px;font-size:11.9px;color:#1f2937;letter-spacing:-0.286px;font-weight:700;">Commission Payments</div>
<div class="abs" style="left:423.3px;top:998.3px;width:300px;height:58px;background:#fff;border:1px solid #e5e7eb;border-radius:6px;"></div>
<div class="abs" style="left:423.3px;top:1027.3px;width:300px;height:1px;background:#e5e7eb;"></div>
<div class="abs" style="left:455.0px;top:998.3px;width:1px;height:58px;background:#e5e7eb;"></div>
<div class="abs" style="left:536.3px;top:998.3px;width:1px;height:58px;background:#e5e7eb;"></div>
<div class="abs" style="left:633.8px;top:998.3px;width:1px;height:58px;background:#e5e7eb;"></div>
<div class="t" style="left:435.5px;top:1004.00px;font-size:11px;color:#1f2937;transform:translateX(-50%);">1</div>
<div class="t" style="left:462.3px;top:1004.00px;font-size:11.0px;color:#1f2937;letter-spacing:-0.207px;font-weight:700;">$1,000</div>
<div class="t" style="left:543.3px;top:1004.00px;font-size:11.0px;color:#1f2937;letter-spacing:-0.181px;">18th Jul 2025</div>
<svg class="ic" style="left:664.05px;top:1007.1499999999999px;stroke:#1f2937" width="10.5" height="10.5" viewBox="0 0 12 12" stroke-width="1.26"><path d="M8.100 1.700a1.350 1.350 0 0 1 1.900 1.900L3.600 10 1.100 10.700 1.800 8.200z"/><path d="M7.300 2.500l1.900 1.900"/><path d="M5.400 10.900h3.800"/></svg>
<svg class="ic" style="left:684.9000000000001px;top:1006.6499999999999px;stroke:#f87171" width="11" height="12.5" viewBox="0 0 11 12.500" stroke-width="1.15"><path d="M.8 2.900h9.400"/><path d="M3.900 2.900V1.700a.9.900 0 0 1 .9-.9h1.400a.9.900 0 0 1 .9.900v1.200"/><path d="M1.700 2.900l.6 7.700a1.200 1.200 0 0 0 1.200 1.100h4a1.200 1.200 0 0 0 1.200-1.100l.6-7.700"/><path d="M4.500 5.200v3.900M6.500 5.200v3.900"/></svg>
<div class="t" style="left:435.5px;top:1033.00px;font-size:11px;color:#1f2937;transform:translateX(-50%);">2</div>
<div class="t" style="left:462.3px;top:1033.00px;font-size:11.0px;color:#1f2937;letter-spacing:-0.207px;font-weight:700;">$1,000</div>
<div class="t" style="left:543.3px;top:1033.00px;font-size:11.0px;color:#1f2937;letter-spacing:-0.181px;">18th Jul 2025</div>
<svg class="ic" style="left:664.05px;top:1036.25px;stroke:#1f2937" width="10.5" height="10.5" viewBox="0 0 12 12" stroke-width="1.26"><path d="M8.100 1.700a1.350 1.350 0 0 1 1.900 1.900L3.600 10 1.100 10.700 1.800 8.200z"/><path d="M7.300 2.500l1.900 1.900"/><path d="M5.400 10.900h3.800"/></svg>
<svg class="ic" style="left:684.9000000000001px;top:1035.75px;stroke:#f87171" width="11" height="12.5" viewBox="0 0 11 12.500" stroke-width="1.15"><path d="M.8 2.900h9.400"/><path d="M3.900 2.900V1.700a.9.900 0 0 1 .9-.9h1.400a.9.900 0 0 1 .9.900v1.200"/><path d="M1.700 2.900l.6 7.700a1.200 1.200 0 0 0 1.200 1.100h4a1.200 1.200 0 0 0 1.200-1.100l.6-7.700"/><path d="M4.500 5.200v3.900M6.500 5.200v3.900"/></svg>
</section>
</main>
</body>
</html>
